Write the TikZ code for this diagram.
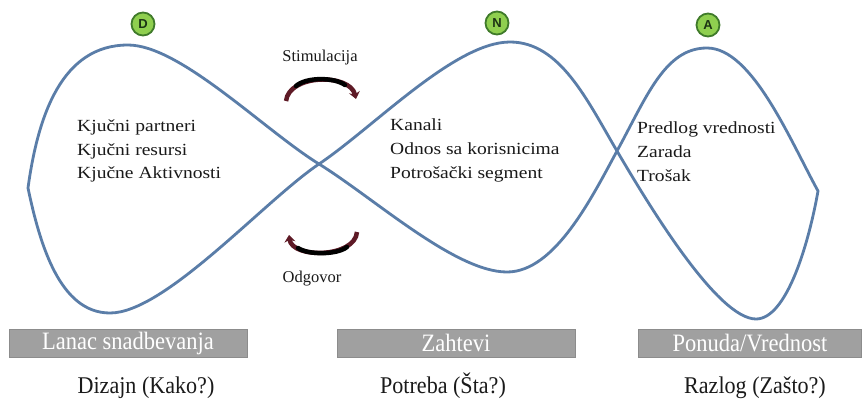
\documentclass[tikz,border=0pt]{standalone}
\usepackage{fontspec}
\setmainfont{Liberation Serif}
\newfontfamily\innerfont[FakeStretch=1.15]{Liberation Serif}
\newfontfamily\boxfont[FakeStretch=0.9]{Liberation Serif}
\newfontfamily\bottomfont[FakeStretch=0.92]{Liberation Serif}
\newfontfamily\circfont{Liberation Sans}
\usetikzlibrary{arrows.meta}
\definecolor{curveblue}{HTML}{5A7DA8}
\definecolor{circfill}{HTML}{8FCF4F}
\definecolor{circring}{HTML}{3F7A2A}
\definecolor{circtext}{HTML}{1C3314}
\definecolor{boxgray}{HTML}{A0A0A0}
\definecolor{boxedge}{HTML}{8C8C8C}
\definecolor{arcred}{HTML}{5E1A26}
\definecolor{textdark}{HTML}{1A1A1A}
\tikzset{
  letter/.style={circle, draw=circring, line width=1.8pt, fill=circfill, minimum size=23pt, inner sep=0pt,
    font=\circfont\bfseries\fontsize{13}{13}\selectfont, text=circtext},
  inner/.style={anchor=base west, inner sep=0pt, font=\innerfont\fontsize{17}{20}\selectfont, text=textdark},
  small/.style={anchor=base, inner sep=0pt, font=\fontsize{16.5}{20}\selectfont, text=textdark},
  graybox/.style={rectangle, fill=boxgray, draw=boxedge, line width=0.6pt, minimum height=28pt, inner sep=0pt,
    font=\boxfont\fontsize{25}{28}\selectfont, text=white},
  bottom/.style={anchor=base, inner sep=0pt, font=\bottomfont\fontsize{24}{28}\selectfont, text=textdark},
  loopline/.style={draw=curveblue, line width=2.8pt, line join=round},
  cyclearc/.style={draw=arcred, line width=4.5pt},
  cyclecore/.style={draw=black, line width=4.5pt}
}
\begin{document}
\begin{tikzpicture}[x=1pt,y=-1pt]
\useasboundingbox (0,0) rectangle (866,399);
\fill[white] (0,0) rectangle (866,399);

% key points of the curve
\coordinate (L) at (28,188);
\coordinate (T1) at (128,45);
\coordinate (C) at (319,164);
\coordinate (B2) at (507,272);
\coordinate (R) at (617,151);
\coordinate (T3) at (707,48);
\coordinate (P) at (818,191);
\coordinate (B3) at (756,319);
\coordinate (T2) at (510,42);
\coordinate (B1) at (110,313);

\draw[loopline]
  (L) .. controls (38,115) and (62,45) .. (T1)
      .. controls (180,45) and (264,130) .. (C)
      .. controls (374,198) and (455,272) .. (B2)
      .. controls (555,272) and (592,197) .. (R)
      .. controls (647,96) and (665,48) .. (T3)
      .. controls (752,48) and (790,140) .. (P)
      .. controls (809,242) and (787,319) .. (B3)
      .. controls (717,319) and (647,202) .. (R)
      .. controls (587,100) and (560,42) .. (T2)
      .. controls (455,42) and (374,127) .. (C)
      .. controls (264,201) and (165,313) .. (B1)
      .. controls (60,313) and (40,245) .. (L) -- cycle;

% letter circles
\node[letter] (D) at (143,24) {D};
\node[letter] (N) at (497,23) {N};
\node[letter] (A) at (708,25) {A};

% cycle arrows
\coordinate (s1) at (286,101);
\coordinate (s2) at (356,99);
\draw[cyclearc, -{Stealth[length=7pt,width=11pt]}] (s1) .. controls (289,74) and (350,73) .. (s2);
\draw[cyclecore, line cap=round] (296,86) .. controls (306,77) and (334,77) .. (345,85);
\coordinate (o1) at (357,232);
\coordinate (o2) at (289,235);
\draw[cyclearc, -{Stealth[length=7pt,width=11pt]}] (o1) .. controls (355,258) and (292,259) .. (o2);
\draw[cyclecore, line cap=round] (347,247) .. controls (337,255) and (308,255) .. (298,248);

\node[small] (stim) at (320,61) {Stimulacija};
\node[small] (odg) at (312,282) {Odgovor};

% inner texts
\node[inner] (d1) at (77,131) {Kjučni partneri};
\node[inner] (d2) at (77,155) {Kjučni resursi};
\node[inner] (d3) at (77,178) {Kjučne Aktivnosti};
\node[inner] (n1) at (390,130) {Kanali};
\node[inner] (n2) at (390,154) {Odnos sa korisnicima};
\node[inner] (n3) at (390,178) {Potrošački segment};
\node[inner] (a1) at (637,133) {Predlog vrednosti};
\node[inner] (a2) at (637,157) {Zarada};
\node[inner] (a3) at (637,181) {Trošak};

% gray boxes
\node[graybox, minimum width=238pt] (b1) at (128,343) {Lanac snadbevanja};
\node[graybox, minimum width=238pt] (b2) at (456,343) {Zahtevi};
\node[graybox, minimum width=223pt] (b3) at (750,343) {Ponuda/Vrednost};

% bottom texts
\node[bottom] (q1) at (146,393) {Dizajn (Kako?)};
\node[bottom] (q2) at (443,393) {Potreba (Šta?)};
\node[bottom] (q3) at (755,393) {Razlog (Zašto?)};
\end{tikzpicture}
\end{document}
